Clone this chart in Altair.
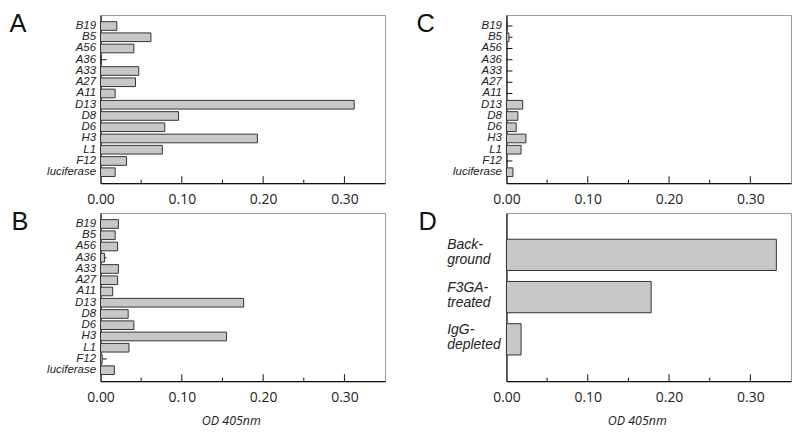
import altair as alt
import pandas as pd

# ---- data ----
cats = ["B19", "B5", "A56", "A36", "A33", "A27", "A11", "D13", "D8", "D6", "H3", "L1", "F12", "luciferase"]
a_vals = [0.020, 0.062, 0.041, 0.001, 0.047, 0.043, 0.018, 0.312, 0.096, 0.079, 0.193, 0.076, 0.032, 0.018]
b_vals = [0.022, 0.018, 0.021, 0.005, 0.022, 0.021, 0.015, 0.176, 0.034, 0.041, 0.155, 0.035, 0.002, 0.017]
c_vals = [0.001, 0.003, 0.0, 0.0, 0.0, 0.0, 0.0, 0.020, 0.014, 0.012, 0.024, 0.018, 0.0, 0.008]
d_cats = ["Back-|ground", "F3GA-|treated", "IgG-|depleted"]
d_vals = [0.332, 0.178, 0.018]
x_labels = [0.0, 0.1, 0.2, 0.3]
major_ticks = [0.1, 0.2, 0.3]
minor_ticks = [0.05, 0.15, 0.25]

W, H = 286, 169
XDOM = [0, 0.35]
BAR_FILL = "#c8c8c8"
BAR_STROKE = "#333333"
AXIS_COL = "#111111"
TICK_COL = "#111111"


def letter_axis_kw(letter, tx):
    return dict(
        title=letter, titleAngle=0, titleX=tx, titleY=17, titleBaseline="alphabetic",
        titleAlign="left", titleFont="Liberation Sans", titleFontSize=25.5,
        titleFontWeight="normal", titleColor="#111",
        ticks=False, domainColor=AXIS_COL, domainWidth=1.2,
    )


def panel(letter, tx, categories, values, bottom=False, d_style=False):
    df = pd.DataFrame({"cat": categories, "v": values})
    if d_style:
        ysc = alt.Scale(domain=categories, paddingInner=0.26, paddingOuter=0.62)
        yaxis = alt.Axis(
            labelFont="Liberation Sans", labelFontStyle="italic",
            labelFontSize=14, labelColor="#222", labelAlign="left",
            labelPadding=60, labelLineHeight=15, labelOffset=-9.5,
            labelExpr="split(datum.label, '|')",
            **letter_axis_kw(letter, tx),
        )
    else:
        ysc = alt.Scale(domain=categories, paddingInner=0.23, paddingOuter=0.59)
        yaxis = alt.Axis(
            labelFont="Liberation Sans", labelFontStyle="italic",
            labelFontSize=11.5, labelColor="#222", labelPadding=5,
            **letter_axis_kw(letter, tx),
        )
    xaxis_kw = dict(
        values=x_labels, format=".2f", ticks=False, grid=False, labelFlush=False,
        labelFont="Open Sans", labelFontSize=14, labelColor="#222",
        labelPadding=9, domainColor=AXIS_COL, domainWidth=1.2,
    )
    if bottom:
        xaxis = alt.Axis(title="OD 405nm", titleFont="Open Sans", titleFontStyle="italic",
                         titleFontWeight="normal", titleFontSize=12.5, titleColor="#222",
                         titleX=131, titleY=34, titleBaseline="top", **xaxis_kw)
    else:
        xaxis = alt.Axis(title=None, **xaxis_kw)
    xsc = alt.Scale(domain=XDOM, nice=False, zero=True)

    base = alt.Chart(df)
    bars = base.transform_filter("datum.v > 0").mark_bar(
        fill=BAR_FILL, stroke=BAR_STROKE, strokeWidth=1
    ).encode(
        x=alt.X("v:Q", scale=xsc, axis=xaxis),
        y=alt.Y("cat:N", scale=ysc, axis=yaxis, sort=categories),
    )
    layers = []
    if not d_style:
        yticks = base.mark_rule(color=TICK_COL, strokeWidth=1).encode(
            y=alt.Y("cat:N", scale=ysc, sort=categories),
            x=alt.value(0), x2=alt.value(6),
        )
        layers.append(yticks)
    layers.append(bars)
    maj = alt.Chart(pd.DataFrame({"t": major_ticks})).mark_rule(color=TICK_COL, strokeWidth=1).encode(
        x=alt.X("t:Q", scale=xsc), y=alt.value(H), y2=alt.value(H - 7)
    )
    mino = alt.Chart(pd.DataFrame({"t": minor_ticks})).mark_rule(color=TICK_COL, strokeWidth=1).encode(
        x=alt.X("t:Q", scale=xsc), y=alt.value(H), y2=alt.value(H - 3.5)
    )
    layers += [maj, mino]
    return alt.layer(*layers).properties(width=W, height=H)


pA = panel("A", -92, cats, a_vals)
pC = panel("C", -91, cats, c_vals)
pB = panel("B", -90, cats, b_vals, bottom=True)
pD = panel("D", -89, d_cats, d_vals, bottom=True, d_style=True)

chart = alt.concat(
    pA, pC, pB, pD,
    columns=2,
    spacing={"row": 30, "column": 122},
    bounds="flush",
).properties(
    padding={"left": 0, "top": 2, "right": 0, "bottom": 0}
).configure_view(
    stroke="#999999", strokeWidth=1
)

chart.save("out.html", embed_options={"renderer": "svg", "actions": False})
